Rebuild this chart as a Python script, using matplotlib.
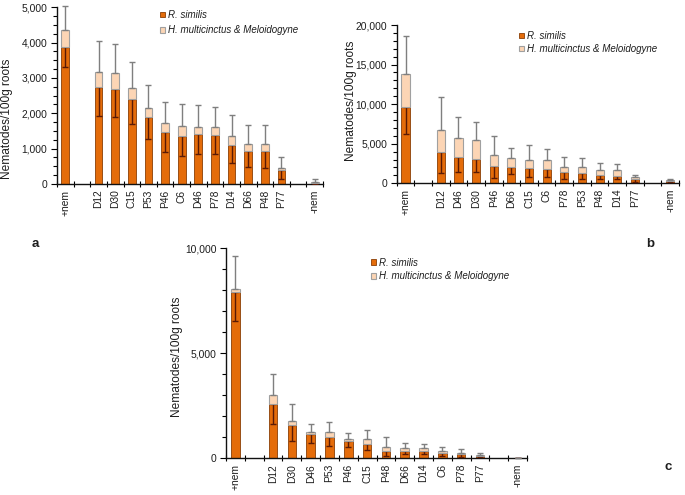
import matplotlib
matplotlib.use("Agg")
import matplotlib.pyplot as plt
from matplotlib.ticker import MultipleLocator, FuncFormatter
from matplotlib.patches import Patch

plt.rcParams['font.family'] = ['Liberation Sans', 'DejaVu Sans']

# ---------------- data ----------------
cats_a = ['+nem', 'D12', 'D30', 'C15', 'P53', 'P46', 'C6', 'D46', 'P78', 'D14', 'D66', 'P48', 'P77', '-nem']
rs_a = [3870, 2735, 2680, 2405, 1905, 1480, 1360, 1415, 1380, 1095, 935, 925, 390, 30]
total_a = [4355, 3180, 3130, 2705, 2140, 1715, 1650, 1625, 1605, 1360, 1140, 1125, 445, 45]
rs_err_a = [570, 810, 775, 705, 620, 565, 560, 575, 530, 510, 465, 480, 255, 20]
tot_err_a = [680, 865, 840, 755, 660, 615, 615, 620, 585, 595, 520, 545, 330, 110]

cats_b = ['+nem', 'D12', 'D46', 'D30', 'P46', 'D66', 'C15', 'C6', 'P78', 'P53', 'P48', 'D14', 'P77', '-nem']
rs_b = [9600, 3900, 3320, 3080, 2190, 2060, 1890, 1770, 1390, 1350, 1010, 930, 500, 250]
total_b = [13770, 6700, 5680, 5430, 3580, 3200, 2990, 2990, 2100, 2020, 1680, 1640, 760, 400]
rs_err_b = [3410, 2640, 1850, 1640, 1560, 840, 1150, 930, 880, 760, 500, 420, 290, 100]
tot_err_b = [4880, 4250, 2650, 2320, 2360, 1220, 1830, 1390, 1270, 1220, 930, 840, 340, 100]

cats_c = ['+nem', 'D12', 'D30', 'D46', 'P53', 'P46', 'C15', 'P48', 'D66', 'D14', 'C6', 'P78', 'P77', '-nem']
rs_c = [7900, 2590, 1590, 1160, 1000, 825, 680, 365, 365, 350, 240, 220, 125, 15]
total_c = [8050, 3015, 1780, 1240, 1270, 935, 920, 540, 510, 475, 350, 270, 160, 25]
rs_err_c = [1350, 950, 745, 415, 400, 270, 285, 255, 160, 145, 145, 140, 75, 10]
tot_err_c = [1585, 1000, 790, 380, 475, 270, 410, 460, 205, 220, 205, 160, 80, 10]

legend_labels = ['R. similis', 'H. multicinctus & Meloidogyne']
ylabel = 'Nematodes/100g roots'

# positions: +nem, gap, 12 lines, gap, -nem
positions = [0] + list(range(2, 14)) + [15]

ORANGE = '#E46C0A'
ORANGE_EDGE = '#8A3E05'
LIGHT = '#FCD5B5'
LIGHT_EDGE = '#A0A0A0'
RS_ERR = '#5A1A05'
TOT_ERR = '#7F7F7F'
TXT = '#1E1E1E'

fig = plt.figure(figsize=(6.85, 4.95), dpi=100)
W, H = 685.0, 495.0


def make_axes(x0, x1, y_bottom, y_top):
    return fig.add_axes([x0 / W, 1 - y_bottom / H, (x1 - x0) / W, (y_bottom - y_top) / H])


def panel(ax, cats, rs, total, rs_err, tot_err, ymax, major, minor, leg_xy, leg_spacing,
          label_xy):
    width = 0.46
    light = [t - r for t, r in zip(total, rs)]
    ax.bar(positions, rs, width=width, color=ORANGE, edgecolor=ORANGE_EDGE, linewidth=0.6, zorder=2)
    ax.errorbar(positions, rs, yerr=[rs_err, [0] * len(rs)], fmt='none', ecolor=RS_ERR,
                elinewidth=1.0, capsize=2.2, capthick=1.0, zorder=3)
    ax.bar(positions, light, bottom=rs, width=width, color=LIGHT, edgecolor=LIGHT_EDGE,
           linewidth=0.8, zorder=4)
    eb = ax.errorbar(positions, total, yerr=[[0] * len(total), tot_err], fmt='none', ecolor=TOT_ERR,
                     elinewidth=1.0, capsize=2.2, capthick=1.0, zorder=5)
    for art in eb.lines[1]:
        art.set_color('#3A3A3A')
        art.set_clip_on(False)
    for art in eb.lines[2]:
        art.set_clip_on(False)

    ax.set_xlim(-0.5, 15.5)
    ax.set_ylim(0, ymax)
    ax.set_xticks(positions)
    ax.set_xticklabels(cats, rotation=90, fontsize=7.4, color=TXT)
    ax.set_xticks([p + 0.5 for p in range(-1, 16)], minor=True)
    ax.tick_params(axis='x', which='major', length=0, pad=4)
    ax.tick_params(axis='x', which='minor', length=4, direction='inout', width=0.8)
    ax.yaxis.set_major_locator(MultipleLocator(major))
    ax.yaxis.set_minor_locator(MultipleLocator(minor))
    ax.yaxis.set_major_formatter(FuncFormatter(lambda v, p: f'{int(v):,}'))
    ax.tick_params(axis='y', which='major', length=4, width=0.8, labelsize=7.4, labelcolor=TXT, pad=3)
    ax.tick_params(axis='y', which='minor', length=3, width=0.8)
    for s in ['top', 'right']:
        ax.spines[s].set_visible(False)
    for s in ['left', 'bottom']:
        ax.spines[s].set_linewidth(1.0)
        ax.spines[s].set_color('#111111')
    ax.set_ylabel(ylabel, fontsize=8.6, color=TXT)
    ax.yaxis.set_label_coords(*label_xy)

    handles = [Patch(facecolor=ORANGE, edgecolor=ORANGE_EDGE, linewidth=0.6),
               Patch(facecolor=LIGHT, edgecolor=LIGHT_EDGE, linewidth=0.8)]
    leg = fig.legend(handles, legend_labels, loc='upper left',
                     bbox_to_anchor=(leg_xy[0] / W, 1 - leg_xy[1] / H),
                     frameon=False, fontsize=7, handlelength=0.55, handleheight=0.55,
                     handletextpad=0.3, labelspacing=leg_spacing, borderpad=0, borderaxespad=0)
    for t in leg.get_texts():
        t.set_fontstyle('italic')
        t.set_color(TXT)


ax_a = make_axes(57, 323, 184, 7.3)
panel(ax_a, cats_a, rs_a, total_a, rs_err_a, tot_err_a, 5000, 1000, 250, (160, 10), 0.55,
      (-0.165, 0.37))

ax_b = make_axes(396.7, 679, 183.3, 25)
panel(ax_b, cats_b, rs_b, total_b, rs_err_b, tot_err_b, 20000, 5000, 1000, (519, 31), 0.3,
      (-0.141, 0.52))

ax_c = make_axes(226, 527, 458.3, 248.3)
panel(ax_c, cats_c, rs_c, total_c, rs_err_c, tot_err_c, 10000, 5000, 1000, (371, 257.5), 0.37,
      (-0.143, 0.484))

fig.text(35 / W, 1 - 244 / H, 'a', fontsize=9.5, fontweight='bold', ha='center', va='center', color=TXT)
fig.text(650 / W, 1 - 244 / H, 'b', fontsize=9.5, fontweight='bold', ha='center', va='center', color=TXT)
fig.text(668 / W, 1 - 467 / H, 'c', fontsize=9.5, fontweight='bold', ha='center', va='center', color=TXT)

fig.savefig('out.png', dpi=100)
